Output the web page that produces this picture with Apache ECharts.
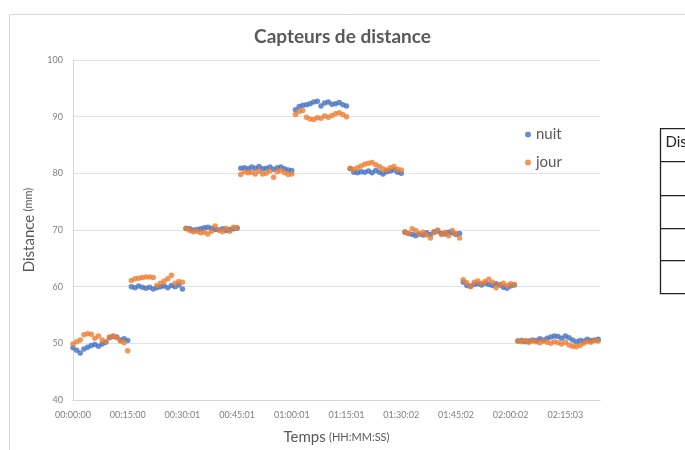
<!DOCTYPE html>
<html>
<head>
<meta charset="utf-8">
<script src="https://cdn.jsdelivr.net/npm/echarts@6/dist/echarts.min.js"></script>
<style>
html, body { margin: 0; padding: 0; background: #fff; }
#chart { width: 685px; height: 450px; }
</style>
</head>
<body>
<div id="chart"></div>
<script>
// libellés de l'axe des temps (un tous les 15 min)
var tickLabels = ['00:00:00', '00:15:00', '00:30:01', '00:45:01', '01:00:01',
    '01:15:01', '01:30:02', '01:45:02', '02:00:02', '02:15:03'];

// une mesure par minute, paliers de 50 -> 90 -> 50 mm
var nuit = [
    49.2, 48.8, 48.3, 49.0, 49.3, 49.6, 49.8, 49.5, 49.9, 50.2, 51.0, 51.2, 51.1, 50.6, 50.8, 50.5,
    60.0, 59.8, 60.1, 59.9, 59.7, 59.9, 59.6, 59.8, 60.0, 60.1, 59.8, 60.2, 60.0, 60.3, 59.6,
    70.3, 70.2, 70.0, 70.1, 70.2, 70.4, 70.5, 70.3, 70.1, 70.0, 70.2, 69.9, 70.1, 70.2, 70.3,
    80.9, 81.0, 80.8, 81.1, 80.9, 81.2, 80.8, 80.9, 81.1, 80.7, 81.0, 81.1, 80.8, 80.6, 80.5,
    91.2, 91.8, 92.0, 92.1, 92.3, 92.6, 92.7, 91.9, 92.4, 92.6, 92.2, 92.3, 92.5, 92.1, 91.9,
    80.8, 80.2, 80.1, 80.3, 80.2, 80.4, 80.1, 80.5, 80.2, 79.9, 80.3, 80.4, 80.6, 80.2, 80.0,
    69.6, 69.4, 69.2, 69.0, 69.3, 69.1, 69.5, 69.2, 69.7, 69.8, 69.4, 69.3, 69.6, 69.5, 69.2, 69.4,
    60.8, 60.2, 60.1, 60.4, 60.5, 60.3, 60.6, 60.4, 60.2, 60.5, 60.3, 59.9, 59.7, 60.1, 60.3,
    50.4, 50.5, 50.3, 50.4, 50.6, 50.5, 50.8, 50.6, 50.9, 51.1, 51.3, 51.2, 50.9, 51.3, 51.0,
    50.6, 50.3, 50.5, 50.4, 50.7, 50.5, 50.6, 50.7
];
var jour = [
    49.9, 50.3, 50.6, 51.5, 51.7, 51.6, 50.9, 51.3, 50.6, 50.3, 51.1, 51.3, 51.0, 50.4, 50.1, 48.7,
    61.1, 61.4, 61.5, 61.6, 61.7, 61.7, 61.6, 60.2, 60.6, 61.0, 61.4, 62.0, 60.6, 60.9, 60.8,
    70.2, 69.9, 69.7, 69.8, 69.5, 69.6, 69.3, 69.8, 70.7, 70.0, 69.7, 70.3, 69.8, 70.5, 70.4,
    79.8, 80.3, 80.1, 80.2, 79.9, 80.4, 79.9, 80.0, 80.4, 79.3, 80.3, 80.5, 80.1, 79.8, 79.9,
    90.4, 90.9, 91.1, 89.9, 89.6, 89.5, 89.8, 89.7, 90.1, 89.9, 90.2, 90.5, 90.7, 90.4, 90.0,
    80.9, 80.7, 81.0, 81.3, 81.6, 81.8, 81.9, 81.5, 81.2, 80.8, 80.6, 81.0, 81.2, 80.7, 80.6,
    69.7, 69.4, 70.2, 69.9, 69.3, 69.6, 69.1, 68.6, 69.5, 70.0, 69.2, 69.6, 69.0, 69.9, 69.4, 68.6,
    61.2, 60.7, 60.0, 60.8, 61.0, 60.6, 60.9, 61.3, 60.8, 59.8, 60.4, 60.6, 60.2, 60.5, 60.4,
    50.4, 50.3, 50.5, 50.2, 50.4, 50.3, 50.1, 50.4, 50.2, 50.0, 50.3, 50.1, 49.9, 50.2, 49.7,
    49.5, 49.4, 49.6, 50.0, 50.3, 50.2, 50.5, 50.4
];

function toPoints(values) {
    var list = [];
    for (var i = 0; i < values.length; i++) {
        list.push([i, values[i]]);  // x en minutes
    }
    return list;
}

var myChart = echarts.init(document.getElementById('chart'));
var font = 'Lato, "Open Sans", sans-serif';

var option = {
    backgroundColor: '#fff',
    animation: false,
    title: {
        text: 'Capteurs de distance',
        left: 'center',
        top: 22,
        textStyle: { fontFamily: font, fontSize: 19, fontWeight: 'bold', color: '#595959' }
    },
    legend: {
        orient: 'vertical',
        left: 520,
        top: 122,
        itemGap: 13,
        icon: 'circle',
        itemWidth: 6,
        itemHeight: 6,
        data: ['nuit', 'jour'],
        textStyle: { fontFamily: font, fontSize: 15, color: '#595959' }
    },
    grid: { left: 73, right: 85, top: 60, bottom: 50, containLabel: false },
    xAxis: {
        type: 'value',
        min: 0,
        max: 144.5,
        interval: 15,
        name: '{a|Temps} {b|(HH:MM:SS)}',
        nameLocation: 'middle',
        nameGap: 30,
        nameTextStyle: {
            rich: {
                a: { fontFamily: font, fontSize: 15, color: '#595959' },
                b: { fontFamily: font, fontSize: 11, color: '#595959' }
            }
        },
        axisLine: { show: true, lineStyle: { color: '#d9d9d9' } },
        axisTick: { show: false },
        splitLine: { show: false },
        axisLabel: {
            showMaxLabel: false,
            margin: 11,
            fontFamily: font,
            fontSize: 9,
            color: '#7f7f7f',
            formatter: function (v) {
                var k = Math.round(v / 15);
                return Math.abs(v - k * 15) < 1e-6 && tickLabels[k] ? tickLabels[k] : '';
            }
        }
    },
    yAxis: {
        type: 'value',
        min: 40,
        max: 100,
        interval: 10,
        name: '{a|Distance} {b|(mm)}',
        nameLocation: 'middle',
        nameGap: 36,
        nameTextStyle: {
            rich: {
                a: { fontFamily: font, fontSize: 15, color: '#595959' },
                b: { fontFamily: font, fontSize: 11, color: '#595959' }
            }
        },
        axisLine: { show: true, lineStyle: { color: '#d9d9d9' } },
        axisTick: { show: false },
        splitLine: { lineStyle: { color: '#e3e3e3' } },
        axisLabel: { margin: 10, fontFamily: font, fontSize: 9, color: '#7f7f7f' }
    },
    series: [
        {
            name: 'nuit',
            type: 'scatter',
            symbolSize: 5.5,
            itemStyle: { color: '#4472C4' },
            data: toPoints(nuit)
        },
        {
            name: 'jour',
            type: 'scatter',
            symbolSize: 5.5,
            itemStyle: { color: '#ED7D31' },
            data: toPoints(jour)
        }
    ],
    graphic: [
        // cadre du graphique
        {
            type: 'rect', left: 7, top: 12, z: -1,
            shape: { width: 720, height: 480 },
            style: { fill: 'none', stroke: '#d9d9d9', lineWidth: 1 }
        },
        // tableau coupé à droite
        {
            type: 'group', left: 658, top: 128,
            children: [
                { type: 'rect', shape: { x: 0, y: 0, width: 60, height: 165 }, style: { fill: '#fff', stroke: '#222', lineWidth: 1.3 } },
                { type: 'line', shape: { x1: 0, y1: 33, x2: 60, y2: 33 }, style: { stroke: '#222', lineWidth: 1.3 } },
                { type: 'line', shape: { x1: 0, y1: 67, x2: 60, y2: 67 }, style: { stroke: '#222', lineWidth: 1.3 } },
                { type: 'line', shape: { x1: 0, y1: 100, x2: 60, y2: 100 }, style: { stroke: '#222', lineWidth: 1.3 } },
                { type: 'line', shape: { x1: 0, y1: 132, x2: 60, y2: 132 }, style: { stroke: '#222', lineWidth: 1.3 } },
                { type: 'text', style: { x: 5, y: 6, text: 'Distance', fontFamily: font, fontSize: 15, fill: '#222' } }
            ]
        }
    ]
};

myChart.setOption(option);
</script>
</body>
</html>
